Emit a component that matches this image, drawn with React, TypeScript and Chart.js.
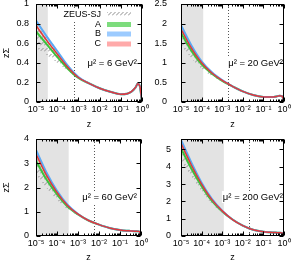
import React, { useEffect, useRef } from "react";
import { Chart, registerables } from "chart.js";

Chart.register(...registerables);

// ---------- data ----------
const Z = [1e-5, 3.16e-5, 1e-4, 3.16e-4, 1e-3, 3.16e-3, 1e-2, 3.16e-2, 0.1, 0.2, 0.316, 0.5, 0.631, 0.794, 0.9, 1.0];
const Z_BAND = [1e-5, 3.16e-5, 1e-4, 3.16e-4, 1e-3];

const X_TICKS = [1e-5, 1e-4, 1e-3, 1e-2, 1e-1, 1];
const X_TICK_LABELS = ["10⁻⁵", "10⁻⁴", "10⁻³", "10⁻²", "10⁻¹", "10⁰"];
const LEGEND_LABELS = ["ZEUS-SJ", "A", "B", "C"];
const MU2 = ["6", "20", "60", "200"];
const Y_MAX = [1, 2.5, 4, 5.6];
const Y_STEP = [0.2, 0.5, 0.5, 1];
const SHADE_END = [3.6e-5, 1.2e-4, 3.6e-4, 1.2e-3];
const DOTTED_Z = [6e-4, 2e-3, 6e-3, 2e-2];

// mu^2 = 6 GeV^2
const A_6 = [0.72, 0.59, 0.46, 0.34, 0.245, 0.19, 0.14, 0.105, 0.08, 0.085, 0.105, 0.15, 0.185, 0.16, 0.08, 0];
const B_6 = [0.83, 0.67, 0.52, 0.37, 0.255, 0.19, 0.14, 0.105, 0.08, 0.085, 0.105, 0.15, 0.185, 0.16, 0.08, 0];
const C_6 = [0.78, 0.63, 0.49, 0.355, 0.25, 0.19, 0.14, 0.105, 0.08, 0.085, 0.105, 0.15, 0.185, 0.16, 0.08, 0];
const ZEUS_HI_6 = [0.84, 0.68, 0.53, 0.375, 0.255];
const ZEUS_LO_6 = [0.55, 0.48, 0.4, 0.32, 0.24];

// mu^2 = 20 GeV^2
const A_20 = [1.76, 1.31, 0.96, 0.72, 0.54, 0.4, 0.27, 0.18, 0.13, 0.125, 0.13, 0.15, 0.16, 0.15, 0.1, 0];
const B_20 = [1.96, 1.45, 1.04, 0.76, 0.56, 0.4, 0.27, 0.18, 0.13, 0.125, 0.13, 0.15, 0.16, 0.15, 0.1, 0];
const C_20 = [1.86, 1.38, 1.0, 0.74, 0.55, 0.4, 0.27, 0.18, 0.13, 0.125, 0.13, 0.15, 0.16, 0.15, 0.1, 0];
const ZEUS_HI_20 = [1.98, 1.47, 1.06, 0.77, 0.56];
const ZEUS_LO_20 = [1.45, 1.12, 0.85, 0.66, 0.52];

// mu^2 = 60 GeV^2
const A_60 = [3.1, 2.33, 1.72, 1.22, 0.89, 0.64, 0.47, 0.33, 0.25, 0.22, 0.21, 0.2, 0.2, 0.19, 0.14, 0];
const B_60 = [3.55, 2.62, 1.86, 1.29, 0.91, 0.64, 0.47, 0.33, 0.25, 0.22, 0.21, 0.2, 0.2, 0.19, 0.14, 0];
const C_60 = [3.38, 2.5, 1.8, 1.26, 0.9, 0.64, 0.47, 0.33, 0.25, 0.22, 0.21, 0.2, 0.2, 0.19, 0.14, 0];
const ZEUS_HI_60 = [3.6, 2.66, 1.89, 1.31, 0.92];
const ZEUS_LO_60 = [2.55, 1.98, 1.5, 1.1, 0.84];

// mu^2 = 200 GeV^2
const A_200 = [5.05, 3.9, 2.88, 2.03, 1.42, 0.95, 0.6, 0.36, 0.24, 0.21, 0.2, 0.19, 0.19, 0.18, 0.13, 0];
const B_200 = [5.55, 4.25, 3.08, 2.14, 1.46, 0.95, 0.6, 0.36, 0.24, 0.21, 0.2, 0.19, 0.19, 0.18, 0.13, 0];
const C_200 = [5.35, 4.1, 3.0, 2.1, 1.45, 0.95, 0.6, 0.36, 0.24, 0.21, 0.2, 0.19, 0.19, 0.18, 0.13, 0];
const ZEUS_HI_200 = [5.6, 4.3, 3.12, 2.16, 1.47];
const ZEUS_LO_200 = [4.3, 3.45, 2.6, 1.85, 1.35];

const SERIES_A = [A_6, A_20, A_60, A_200];
const SERIES_B = [B_6, B_20, B_60, B_200];
const SERIES_C = [C_6, C_20, C_60, C_200];
const ZEUS_HI = [ZEUS_HI_6, ZEUS_HI_20, ZEUS_HI_60, ZEUS_HI_200];
const ZEUS_LO = [ZEUS_LO_6, ZEUS_LO_20, ZEUS_LO_60, ZEUS_LO_200];

// ---------- layout / style ----------
const FONT = "'Liberation Sans', Arial, Helvetica, sans-serif";
const M = 20;
const COL_A = "#3cc23c";
const COL_B = "#5aa9f5";
const COL_C = "#e0383a";
const SW_A = "#7ddc7d";
const SW_B = "#9ccbff";
const SW_C = "#ffaaaa";

const PANELS = [
  { px: 0, py: 0, w: 150, h: 134, area: { l: 36, t: 4, r: 142, b: 102 }, yPad: 7, yTitle: true, legend: true, labelRight: 137, labelY: 63 },
  { px: 150, py: 0, w: 149, h: 134, area: { l: 181, t: 4, r: 284, b: 102 }, yPad: 14, yTitle: false, legend: false, labelRight: 283, labelY: 63 },
  { px: 0, py: 134, w: 150, h: 133, area: { l: 36, t: 139, r: 141, b: 236 }, yPad: 7, yTitle: true, legend: false, labelRight: 137, labelY: 197 },
  { px: 150, py: 134, w: 149, h: 133, area: { l: 181, t: 139, r: 284, b: 236 }, yPad: 10, yTitle: false, legend: false, labelRight: 283, labelY: 197 },
];

function makeHatch(): CanvasPattern | string {
  const c = document.createElement("canvas");
  c.width = 4;
  c.height = 6;
  const g = c.getContext("2d");
  if (!g) return "#bbb";
  g.strokeStyle = "#8e8e8e";
  g.lineWidth = 1;
  g.beginPath();
  g.moveTo(0, 5.5);
  g.lineTo(3.5, 2);
  g.stroke();
  return g.createPattern(c, "repeat") || "#bbb";
}

function pts(xs: number[], ys: number[]) {
  return xs.map((x, k) => ({ x, y: ys[k] }));
}

function PanelChart({ idx }: { idx: number }) {
  const ref = useRef<HTMLCanvasElement | null>(null);
  const p = PANELS[idx];
  const cw = p.w + 2 * M;
  const chh = p.h + 2 * M;
  const ox = p.px - M;
  const oy = p.py - M;

  useEffect(() => {
    if (!ref.current) return;
    const hatch = makeHatch();
    const yW = p.area.l - p.px;
    const xH = p.py + p.h - p.area.b;

    const deco = {
      id: "deco" + idx,
      beforeDatasetsDraw(chart: any) {
        const { ctx, chartArea: a, scales } = chart;
        const x = scales.x;
        ctx.save();
        const xs = x.getPixelForValue(SHADE_END[idx]);
        ctx.fillStyle = "#e3e3e3";
        ctx.fillRect(a.left, a.top, xs - a.left, a.bottom - a.top);
        const xd = Math.round(x.getPixelForValue(DOTTED_Z[idx])) + 0.5;
        ctx.strokeStyle = "#555";
        ctx.lineWidth = 1;
        ctx.setLineDash([1, 2]);
        ctx.beginPath();
        ctx.moveTo(xd, a.top);
        ctx.lineTo(xd, a.bottom);
        ctx.stroke();
        ctx.restore();
      },
      afterDatasetsDraw(chart: any) {
        const { ctx } = chart;
        ctx.save();
        ctx.textBaseline = "middle";
        const label = "μ² = " + MU2[idx] + " GeV²";
        ctx.font = "9.5px " + FONT;
        const lw = ctx.measureText(label).width;
        const lx = p.labelRight - ox;
        const ly = p.labelY - oy;
        ctx.fillStyle = "#fff";
        ctx.fillRect(lx - lw - 1, ly - 6, lw + 2, 12);
        ctx.fillStyle = "#000";
        ctx.textAlign = "right";
        ctx.fillText(label, lx, ly);
        if (p.legend) {
          ctx.font = "9px " + FONT;
          const rows = [15, 24.5, 34, 44];
          const fills: any[] = [hatch, SW_A, SW_B, SW_C];
          rows.forEach((ry, k) => {
            const tx = 101 - ox;
            const ty = ry - oy;
            const t = LEGEND_LABELS[k];
            const tw = ctx.measureText(t).width;
            ctx.fillStyle = "#fff";
            ctx.fillRect(tx - tw - 1, ty - 5, tw + 2, 10);
            ctx.fillStyle = "#000";
            ctx.textAlign = "right";
            ctx.fillText(t, tx, ty);
            ctx.fillStyle = fills[k];
            if (k === 0) ctx.fillRect(107 - ox, ty - 3, 24, 6);
            else ctx.fillRect(107 - ox, ty - 2.5, 24, 5);
          });
        }
        ctx.restore();
      },
      afterDraw(chart: any) {
        const { ctx, chartArea: a, scales } = chart;
        const x = scales.x;
        const y = scales.y;
        ctx.save();
        ctx.strokeStyle = "#000";
        ctx.lineWidth = 1;
        const L = a.left + 0.5;
        const R = a.right - 0.5;
        const T = a.top + 0.5;
        const B = a.bottom - 0.5;
        ctx.strokeRect(L, T, R - L, B - T);
        ctx.beginPath();
        y.ticks.forEach((t: any) => {
          const py = Math.round(y.getPixelForValue(t.value)) + 0.5;
          ctx.moveTo(L, py);
          ctx.lineTo(L + 4, py);
          ctx.moveTo(R, py);
          ctx.lineTo(R - 4, py);
        });
        for (let e = -5; e <= 0; e++) {
          for (let m = 1; m <= 9; m++) {
            const v = m * Math.pow(10, e);
            if (v > 1.0000001) break;
            const px = Math.round(x.getPixelForValue(v)) + 0.5;
            const len = m === 1 ? 4 : 2;
            ctx.moveTo(px, B);
            ctx.lineTo(px, B - len);
            ctx.moveTo(px, T);
            ctx.lineTo(px, T + len);
          }
        }
        ctx.stroke();
        ctx.restore();
      },
    };

    const line = (label: string, data: any, color: string, width: number) => ({
      label,
      data,
      borderColor: color,
      borderWidth: width,
      pointRadius: 0,
      fill: false,
      cubicInterpolationMode: "monotone" as const,
    });

    const chart = new Chart(ref.current, {
      type: "line",
      data: {
        datasets: [
          line("C", pts(Z, SERIES_C[idx]), COL_C, 1.5),
          line("B", pts(Z, SERIES_B[idx]), COL_B, 2),
          line("A", pts(Z, SERIES_A[idx]), COL_A, 2),
          {
            label: "ZEUS-SJ upper",
            data: pts(Z_BAND, ZEUS_HI[idx]),
            borderColor: "rgba(0,0,0,0)",
            borderWidth: 0,
            pointRadius: 0,
            fill: false,
            cubicInterpolationMode: "monotone" as const,
          },
          {
            label: "ZEUS-SJ",
            data: pts(Z_BAND, ZEUS_LO[idx]),
            borderColor: "rgba(0,0,0,0)",
            borderWidth: 0,
            pointRadius: 0,
            fill: "-1",
            backgroundColor: hatch as any,
            cubicInterpolationMode: "monotone" as const,
          },
        ],
      },
      options: {
        responsive: false,
        animation: false,
        devicePixelRatio: 1,
        events: [],
        layout: {
          padding: {
            left: M,
            top: p.area.t - p.py + M,
            right: p.px + p.w - p.area.r + M,
            bottom: M,
          },
        },
        plugins: { legend: { display: false }, tooltip: { enabled: false } },
        scales: {
          x: {
            type: "logarithmic",
            min: 1e-5,
            max: 1,
            grid: { display: false, drawTicks: false },
            border: { display: false },
            afterBuildTicks: (s: any) => {
              s.ticks = X_TICKS.map((v) => ({ value: v, major: true }));
            },
            afterFit: (s: any) => {
              s.height = xH;
            },
            ticks: {
              autoSkip: false,
              maxRotation: 0,
              minRotation: 0,
              padding: 2,
              color: "#000",
              font: { family: FONT, size: 9 },
              callback: (v: any) => {
                const k = X_TICKS.findIndex((t) => Math.abs(Math.log10(t) - Math.log10(Number(v))) < 1e-6);
                return k >= 0 ? X_TICK_LABELS[k] : "";
              },
            },
            title: {
              display: true,
              text: "z",
              color: "#000",
              font: { family: FONT, size: 9 },
              padding: { top: 0, bottom: 3.6 },
            },
          },
          y: {
            type: "linear",
            min: 0,
            max: Y_MAX[idx],
            grid: { display: false, drawTicks: false },
            border: { display: false },
            afterFit: (s: any) => {
              s.width = yW;
            },
            ticks: {
              stepSize: Y_STEP[idx],
              includeBounds: false,
              padding: p.yPad,
              color: "#000",
              font: { family: FONT, size: 9 },
              callback: (v: any) => String(Math.round(Number(v) * 10) / 10),
            },
            title: {
              display: p.yTitle,
              text: "zΣ",
              color: "#000",
              font: { family: FONT, size: 9 },
              padding: { top: 1.6, bottom: 0 },
            },
          },
        },
      } as any,
      plugins: [deco],
    });
    return () => chart.destroy();
  }, [idx]);

  return (
    <canvas
      ref={ref}
      width={cw}
      height={chh}
      style={{ position: "absolute", left: ox, top: oy, width: cw, height: chh }}
    />
  );
}

export default function App() {
  return (
    <div
      style={{
        position: "fixed",
        left: 0,
        top: 0,
        width: 299,
        height: 267,
        overflow: "hidden",
        background: "#fff",
      }}
    >
      {PANELS.map((_, i) => (
        <PanelChart key={i} idx={i} />
      ))}
    </div>
  );
}
